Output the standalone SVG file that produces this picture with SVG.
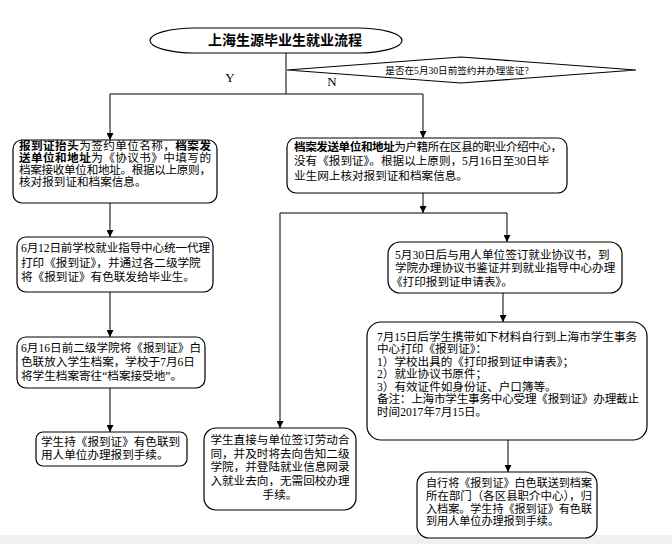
<svg xmlns="http://www.w3.org/2000/svg" width="672" height="544" viewBox="0 0 672 544">
<style>
.box{fill:#fff;stroke:#000;stroke-width:1.2}
.ln{fill:none;stroke:#000;stroke-width:1}
.t{font-family:"Liberation Serif","Noto Sans CJK SC",serif;font-size:11.6px;fill:#000}
.b{font-weight:bold}
.title{font-family:"Liberation Sans","Noto Sans CJK SC",sans-serif;font-size:14px;font-weight:bold;fill:#000}
.yn{font-family:"Liberation Serif",serif;font-size:13px;fill:#000}
.q{font-family:"Liberation Serif","Noto Sans CJK SC",serif;font-size:9.6px;fill:#000}
</style>
<defs>
<marker id="arr" viewBox="0 0 8 8" refX="8" refY="4" markerWidth="7" markerHeight="7" orient="auto" markerUnits="userSpaceOnUse">
<path d="M0,0 L8,4 L0,8 z" fill="#000"/>
</marker>
</defs>
<rect x="0" y="535" width="672" height="9" fill="#f0f0f0"/>
<g id="connectors">
<path class="ln" d="M286,53 V94"/>
<path class="ln" d="M110,94 H423"/>
<path class="ln" d="M110,94 V140" marker-end="url(#arr)"/>
<path class="ln" d="M423,94 V138" marker-end="url(#arr)"/>
<path class="ln" d="M110,203 V237" marker-end="url(#arr)"/>
<path class="ln" d="M110,292 V337" marker-end="url(#arr)"/>
<path class="ln" d="M110,388 V432" marker-end="url(#arr)"/>
<path class="ln" d="M423,193 V213" marker-end="url(#arr)"/>
<path class="ln" d="M280,213 H507"/>
<path class="ln" d="M507,213 V242" marker-end="url(#arr)"/>
<path class="ln" d="M280,213 V428" marker-end="url(#arr)"/>
<path class="ln" d="M503,293 V322" marker-end="url(#arr)"/>
<path class="ln" d="M508,440 V472" marker-end="url(#arr)"/>
</g>
<g id="title">
<rect class="box" x="150" y="28" width="252" height="25" rx="45" ry="12.5"/>
<text class="title" x="285" y="45" text-anchor="middle">上海生源毕业生就业流程</text>
</g>
<g id="decision">
<polygon class="box" points="287,70 461,57 636,70 461,83"/>
<text class="q" x="457" y="74" text-anchor="middle">是否在5月30日前签约并办理鉴证?</text>
</g>
<g id="labels">
<text class="yn" x="230" y="82" text-anchor="middle">Y</text>
<text class="yn" x="332" y="86" text-anchor="middle">N</text>
</g>
<g id="n1">
<rect class="box" x="13" y="140" width="204" height="63" rx="9"/>
<text class="t" x="19" y="150" textLength="192" lengthAdjust="spacing"><tspan class="b">报到证抬头</tspan>为签约单位名称，<tspan class="b">档案发</tspan></text>
<text class="t" x="19" y="162" textLength="192" lengthAdjust="spacing"><tspan class="b">送单位和地址</tspan>为《协议书》中填写的</text>
<text class="t" x="19" y="174" textLength="192" lengthAdjust="spacing">档案接收单位和地址。根据以上原则，</text>
<text class="t" x="19" y="186">核对报到证和档案信息。</text>
</g>
<g id="n2">
<rect class="box" x="287" y="138" width="280" height="55" rx="9"/>
<text class="t" x="294" y="151" textLength="268" lengthAdjust="spacing"><tspan class="b">档案发送单位和地址</tspan>为户籍所在区县的职业介绍中心，</text>
<text class="t" x="294" y="165">没有《报到证》。根据以上原则，5月16日至30日毕</text>
<text class="t" x="294" y="180">业生网上核对报到证和档案信息。</text>
</g>
<g id="n3">
<rect class="box" x="17" y="237" width="196" height="55" rx="9"/>
<text class="t" x="21" y="252" textLength="189" lengthAdjust="spacing">6月12日前学校就业指导中心统一代理</text>
<text class="t" x="21" y="267">打印《报到证》，并通过各二级学院</text>
<text class="t" x="21" y="281">将《报到证》有色联发给毕业生。</text>
</g>
<g id="n4">
<rect class="box" x="17" y="337" width="188" height="51" rx="9"/>
<text class="t" x="21" y="352" textLength="180" lengthAdjust="spacing">6月16日前二级学院将《报到证》白</text>
<text class="t" x="21" y="366">色联放入学生档案，学校于7月6日</text>
<text class="t" x="21" y="380">将学生档案寄往“档案接受地”。</text>
</g>
<g id="n5">
<rect class="box" x="36" y="432" width="151" height="34" rx="7"/>
<text class="t" x="41" y="446">学生持《报到证》有色联到</text>
<text class="t" x="41" y="459">用人单位办理报到手续。</text>
</g>
<g id="n6">
<rect class="box" x="204" y="428" width="152" height="82" rx="12"/>
<text class="t" x="280" y="444" text-anchor="middle">学生直接与单位签订劳动合</text>
<text class="t" x="280" y="458" text-anchor="middle">同，并及时将去向告知二级</text>
<text class="t" x="280" y="471" text-anchor="middle">学院，并登陆就业信息网录</text>
<text class="t" x="280" y="485" text-anchor="middle">入就业去向，无需回校办理</text>
<text class="t" x="280" y="499" text-anchor="middle">手续。</text>
</g>
<g id="n7">
<rect class="box" x="388" y="242" width="234" height="51" rx="12"/>
<text class="t" x="395" y="259">5月30日后与用人单位签订就业协议书，到</text>
<text class="t" x="395" y="272">学院办理协议书鉴证并到就业指导中心办理</text>
<text class="t" x="391" y="286">《打印报到证申请表》。</text>
</g>
<g id="n8">
<rect class="box" x="367" y="322" width="280" height="118" rx="14"/>
<text class="t" x="377" y="341" textLength="260" lengthAdjust="spacing">7月15日后学生携带如下材料自行到上海市学生事务</text>
<text class="t" x="377" y="353">中心打印《报到证》：</text>
<text class="t" x="377" y="366">1）学校出具的《打印报到证申请表》；</text>
<text class="t" x="377" y="378">2）就业协议书原件；</text>
<text class="t" x="377" y="391">3）有效证件如身份证、户口簿等。</text>
<text class="t" x="377" y="403" textLength="262" lengthAdjust="spacing">备注：上海市学生事务中心受理《报到证》办理截止</text>
<text class="t" x="377" y="416">时间2017年7月15日。</text>
</g>
<g id="n9">
<rect class="box" x="417" y="472" width="180" height="66" rx="12"/>
<text class="t" x="426" y="487" textLength="166" lengthAdjust="spacingAndGlyphs">自行将《报到证》白色联送到档案</text>
<text class="t" x="426" y="500" textLength="166" lengthAdjust="spacingAndGlyphs">所在部门（各区县职介中心），归</text>
<text class="t" x="426" y="513" textLength="166" lengthAdjust="spacingAndGlyphs">入档案。学生持《报到证》有色联</text>
<text class="t" x="426" y="525" textLength="133" lengthAdjust="spacingAndGlyphs">到用人单位办理报到手续。</text>
</g>
</svg>
